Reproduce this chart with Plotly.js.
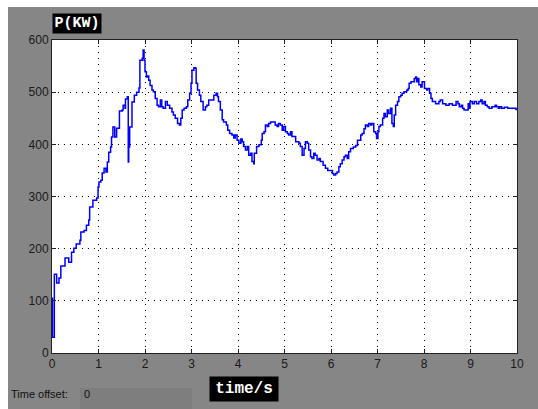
<!DOCTYPE html>
<html>
<head>
<meta charset="utf-8">
<script src="https://cdn.plot.ly/plotly-3.0.1.min.js"></script>
<style>
html,body{margin:0;padding:0;background:#fff;width:538px;height:409px;overflow:hidden;}
#chart{position:absolute;left:8px;top:7px;width:530px;height:402px;}
</style>
</head>
<body>
<div id="chart"></div>
<script>
// time (s)
var timeS = [0.00,0.01,0.05,0.10,0.15,0.19,0.28,0.36,0.42,0.47,0.52,0.60,0.62,0.69,0.74,0.79,0.81,0.88,0.96,0.99,
1.01,1.05,1.08,1.12,1.16,1.19,1.22,1.26,1.28,1.31,1.35,1.39,1.45,1.51,1.53,1.57,1.58,1.62,1.64,1.65,1.67,1.72,1.77,1.82,1.87,1.89,1.94,1.96,1.98,
2.00,2.03,2.06,2.08,2.11,2.15,2.18,2.22,2.26,2.29,2.33,2.36,2.39,2.44,2.48,2.53,2.58,2.61,2.65,2.70,2.74,2.77,2.80,2.84,2.89,2.92,2.96,2.99,
3.01,3.05,3.08,3.10,3.13,3.17,3.20,3.25,3.30,3.33,3.37,3.48,3.53,3.56,3.58,3.62,3.66,3.69,3.75,3.78,3.82,3.87,3.91,3.94,3.98,
4.02,4.06,4.09,4.12,4.16,4.20,4.23,4.27,4.30,4.34,4.35,4.40,4.45,4.50,4.52,4.56,4.59,4.63,4.66,4.70,4.80,4.84,4.87,4.91,4.95,4.98,
5.02,5.06,5.09,5.13,5.16,5.24,5.31,5.34,5.38,5.42,5.45,5.49,5.52,5.56,5.59,5.63,5.66,5.70,5.74,5.77,5.83,5.88,5.93,
6.03,6.06,6.10,6.13,6.17,6.20,6.24,6.28,6.31,6.35,6.38,6.42,6.48,6.53,6.57,6.64,6.67,6.71,6.74,6.78,6.81,6.85,6.88,6.92,6.96,6.98,
7.01,7.03,7.06,7.11,7.14,7.17,7.21,7.24,7.28,7.31,7.34,7.36,7.39,7.43,7.46,7.50,7.53,7.57,7.63,7.66,7.68,7.72,7.79,7.82,7.84,7.87,7.89,7.93,7.96,
8.01,8.06,8.08,8.12,8.15,8.18,8.25,8.32,8.35,8.40,8.47,8.54,8.61,8.69,8.73,8.76,8.80,8.83,8.86,8.95,8.97,8.99,
9.04,9.08,9.13,9.18,9.22,9.25,9.29,9.32,9.36,9.40,9.46,9.53,9.56,9.60,9.63,9.67,9.73,9.80,9.98,10.00];
// power (kW)
var powerKW = [105,30,151,134,144,167,182,174,193,201,209,216,232,235,245,255,280,293,297,318,
328,331,345,354,347,366,385,395,414,433,414,431,464,466,475,469,487,491,366,395,433,481,494,500,508,561,565,581,561,
539,529,531,523,513,504,501,488,475,472,485,472,469,482,475,469,462,456,450,440,437,450,466,469,472,485,498,517,
542,547,546,517,504,494,482,466,472,475,485,494,498,491,482,466,447,443,437,427,421,418,412,418,408,
402,410,405,396,389,396,379,383,367,363,383,396,399,408,421,424,437,434,440,443,437,434,440,437,427,434,
424,421,418,424,415,405,402,396,379,392,405,402,389,376,373,383,379,370,373,367,360,354,350,
344,341,344,347,357,363,370,376,379,373,386,392,395,398,408,418,421,430,437,434,440,437,440,424,421,411,
424,434,437,450,459,453,466,459,469,440,434,456,475,482,491,494,498,501,504,507,517,520,526,529,520,526,514,510,520,
507,504,507,498,488,482,478,482,485,478,475,478,475,482,478,472,475,469,466,478,469,482,
478,482,478,482,485,478,482,475,472,469,472,475,472,469,472,469,471,469,467,467];
var xTicks = [0,1,2,3,4,5,6,7,8,9,10];
var yTicks = [0,100,200,300,400,500,600];
var yTitle = 'P(KW)';
var xTitle = 'time/s';

var trace = {
  x: timeS, y: powerKW, type: 'scatter', mode: 'lines',
  line: {color: '#0000ff', width: 1.5, shape: 'hv'},
  hoverinfo: 'skip'
};

var axisCommon = {
  showline: true, linecolor: '#222', linewidth: 1, mirror: 'ticks',
  ticks: 'inside', ticklen: 4, tickcolor: '#222',
  showgrid: true, gridcolor: '#000', griddash: '1px,5px', gridwidth: 1,
  zeroline: false,
  tickfont: {family: 'Liberation Sans, Arial, sans-serif', size: 12, color: '#1a1a1a'}
};

var layout = {
  width: 530, height: 402,
  margin: {l: 44, r: 21, t: 33, b: 56, pad: 0},
  paper_bgcolor: '#868686', plot_bgcolor: '#ffffff',
  showlegend: false,
  xaxis: Object.assign({}, axisCommon, {range: [0, 10], tickvals: xTicks, ticktext: xTicks.map(String)}),
  yaxis: Object.assign({}, axisCommon, {range: [0, 600], tickvals: yTicks, ticktext: yTicks.map(String)}),
  shapes: [
    {type: 'rect', xref: 'paper', yref: 'paper', x0: 0.0602, x1: 0.301, y0: -0.1118, y1: -0.2,
     fillcolor: '#7e7e7e', line: {width: 0}, layer: 'below'}
  ],
  annotations: [
    {text: '<b>' + yTitle + '</b>', xref: 'paper', yref: 'paper', x: 0, y: 1.0527,
     xanchor: 'left', yanchor: 'middle', showarrow: false, bgcolor: '#000',
     width: 48, height: 19, borderpad: 0,
     font: {family: 'Liberation Mono, Courier New, monospace', size: 15, color: '#fff'}},
    {text: '<b>' + xTitle + '</b>', xref: 'paper', yref: 'paper', x: 0.4129, y: -0.115,
     xanchor: 'center', yanchor: 'middle', showarrow: false, bgcolor: '#000',
     width: 68, height: 24, borderpad: 0,
     font: {family: 'Liberation Mono, Courier New, monospace', size: 16, color: '#fff'}},
    {text: 'Time offset:', xref: 'paper', yref: 'paper', x: -0.0925, y: -0.131,
     xanchor: 'left', yanchor: 'middle', showarrow: false,
     font: {family: 'Liberation Sans, Arial, sans-serif', size: 11, color: '#111'}},
    {text: '0', xref: 'paper', yref: 'paper', x: 0.0645, y: -0.131,
     xanchor: 'left', yanchor: 'middle', showarrow: false,
     font: {family: 'Liberation Sans, Arial, sans-serif', size: 11, color: '#111'}}
  ]
};

Plotly.newPlot('chart', [trace], layout, {staticPlot: true, displayModeBar: false});
</script>
</body>
</html>
